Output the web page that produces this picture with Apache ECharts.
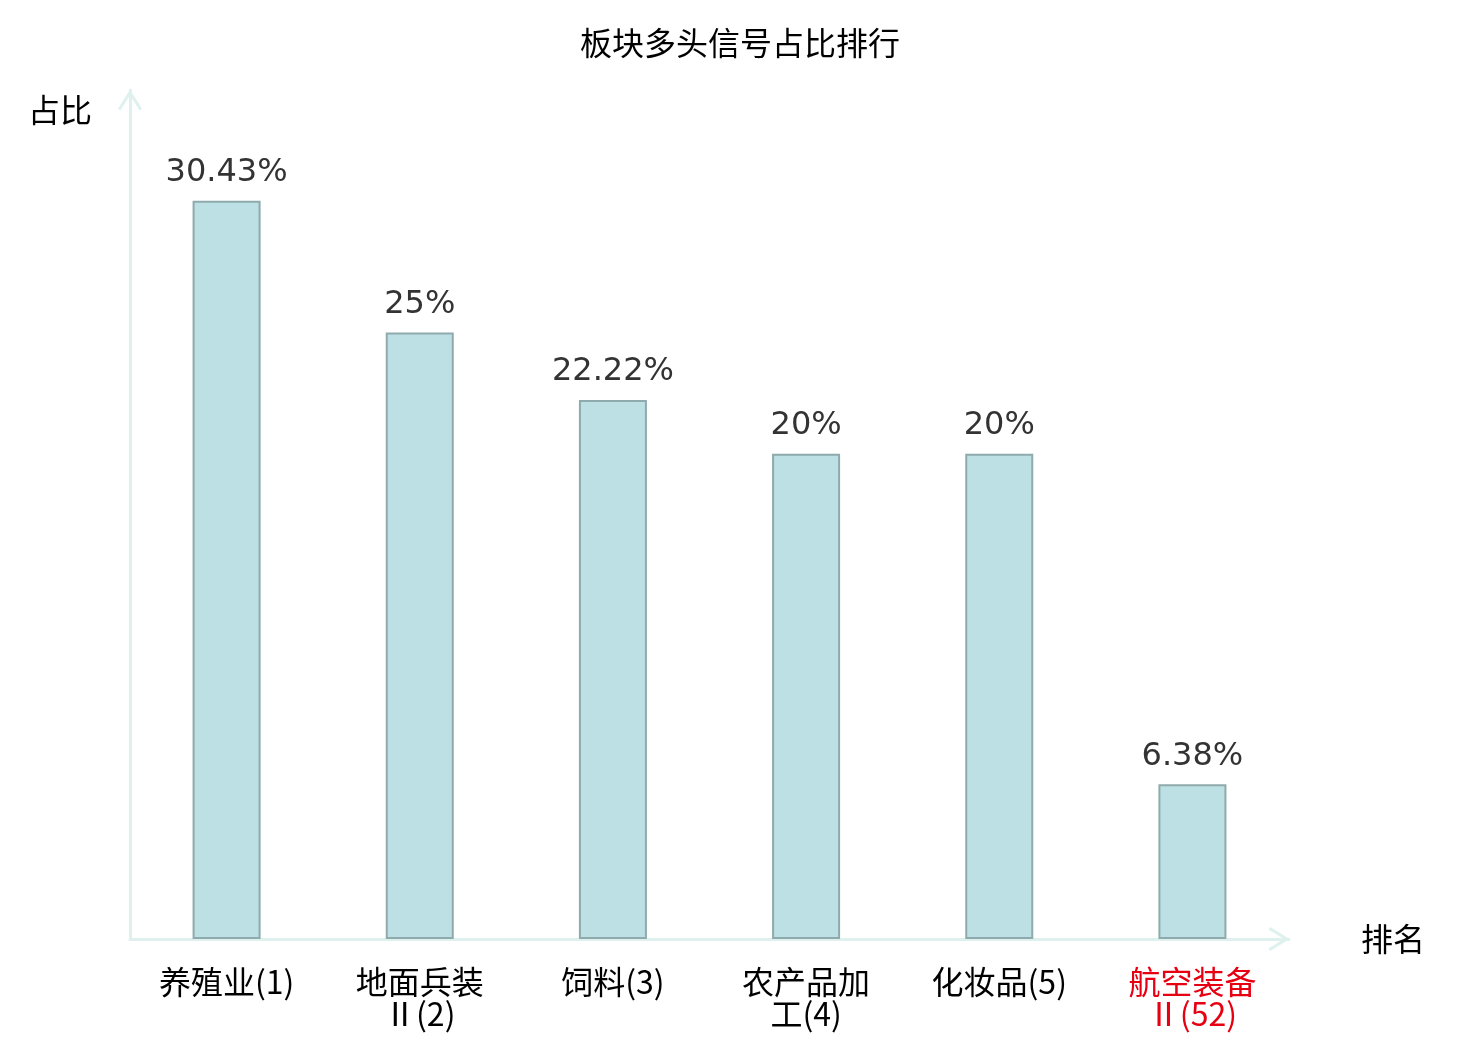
<!DOCTYPE html>
<html>
<head>
<meta charset="utf-8">
<script src="https://cdn.jsdelivr.net/npm/echarts@6/dist/echarts.min.js"></script>
<style>
    html, body { margin: 0; padding: 0; background: #fff; }
    #main { width: 1480px; height: 1040px; }
</style>
</head>
<body>
<div id="main"></div>
<script>
var categories = ['养殖业(1)', '地面兵装Ⅱ(2)', '饲料(3)', '农产品加工(4)', '化妆品(5)', '航空装备Ⅱ(52)'];
var ratios = [30.43, 25, 22.22, 20, 20, 6.38];
var highlightIndex = 5; // 本板块, 标红

var chartDom = document.getElementById('main');
var myChart = echarts.init(chartDom);
var option;

var cjk = '"Noto Sans CJK SC", "DejaVu Sans", sans-serif';
// 开口箭头 (折线形), 尖朝上
var chevron = 'path://M0,80 L50,0 L100,80 L90,88 L50,24 L10,88 Z';

option = {
    animation: false,
    title: {
        text: '板块多头信号占比排行',
        left: 'center',
        top: 22,
        textStyle: {
            color: '#000',
            fontSize: 32,
            fontWeight: 'normal',
            fontFamily: cjk
        }
    },
    grid: {
        left: 130,
        right: 191,
        top: 90,
        bottom: 101
    },
    xAxis: {
        type: 'category',
        data: categories,
        name: '排名',
        nameGap: 72,
        nameTextStyle: {
            color: '#000',
            fontSize: 32,
            fontFamily: cjk,
            verticalAlign: 'middle'
        },
        axisLine: {
            show: true,
            symbol: ['none', chevron],
            symbolSize: [24, 22],
            symbolOffset: [0, -10],
            lineStyle: { color: '#dff1ef', width: 3 }
        },
        axisTick: { show: false },
        axisLabel: {
            interval: 0,
            margin: 27,
            fontSize: 32,
            lineHeight: 32,
            fontFamily: cjk,
            formatter: function (value) {
                // 超过6个字时第4个字后换行
                return value.length > 6 ? value.slice(0, 4) + '\n' + value.slice(4) : value;
            },
            color: function (value, index) {
                return index === highlightIndex ? '#e60012' : '#000';
            }
        }
    },
    yAxis: {
        type: 'value',
        min: 0,
        max: 35,
        name: '占比',
        nameLocation: 'end',
        nameGap: -20,
        nameTextStyle: {
            color: '#000',
            fontSize: 32,
            fontFamily: cjk,
            align: 'right',
            verticalAlign: 'middle',
            padding: [0, 38, 0, 0]
        },
        axisLine: {
            show: true,
            symbol: ['none', chevron],
            symbolSize: [24, 22],
            symbolOffset: [0, -10],
            lineStyle: { color: '#dff1ef', width: 3 }
        },
        axisTick: { show: false },
        axisLabel: { show: false },
        splitLine: { show: false }
    },
    series: [
        {
            type: 'bar',
            data: ratios,
            barWidth: 68,
            itemStyle: {
                color: '#bce0e3',
                borderColor: '#8eaaac',
                borderWidth: 2
            },
            label: {
                show: true,
                position: 'top',
                distance: 12,
                color: '#333',
                fontSize: 32,
                fontFamily: '"DejaVu Sans", sans-serif',
                formatter: function (p) {
                    return p.value + '%';
                }
            }
        }
    ]
};

option && myChart.setOption(option);
</script>
</body>
</html>
